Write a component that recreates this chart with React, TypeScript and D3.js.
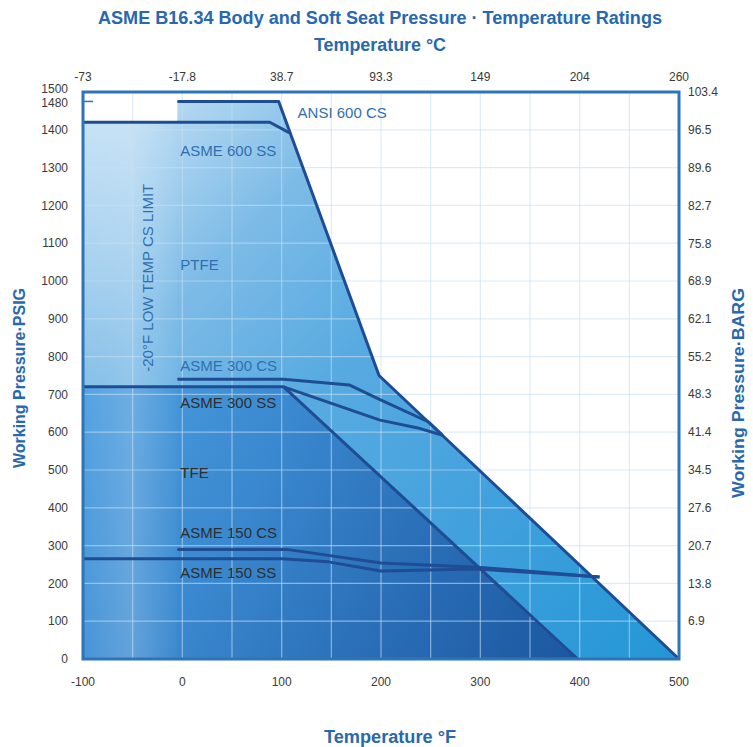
import React, { useRef, useEffect } from "react";
import * as d3 from "d3";

// temperature ticks (°F bottom, °C top labels)
const tempTicksF = [-100, 0, 100, 200, 300, 400, 500];
const tempLabelsC = ["-73", "-17.8", "38.7", "93.3", "149", "204", "260"];
const psiTicks = [0, 100, 200, 300, 400, 500, 600, 700, 800, 900, 1000, 1100, 1200, 1300, 1400, 1480, 1500];
const bargTicks = [6.9, 13.8, 20.7, 27.6, 34.5, 41.4, 48.3, 55.2, 62.1, 68.9, 75.8, 82.7, 89.6, 96.5, 103.4];

// [°F, psig]
const ptfeArea = [[-100, 0], [-100, 1420], [-5, 1420], [-5, 1475], [97, 1475], [198, 750], [500, 0]];
const tfeArea = [[-100, 0], [-100, 720], [102, 720], [398, 0]];
const ansi600CS = [[-5, 1475], [97, 1475], [198, 750], [500, 0]];
const asme600SS = [[-100, 1420], [88, 1420], [108, 1392]];
const asme300CS = [[-5, 740], [102, 740], [168, 725], [199, 686], [248, 627], [262, 592]];
const asme300SS = [[-100, 720], [102, 720], [199, 632], [236, 612], [262, 592]];
const tfeEdge = [[102, 720], [398, 0]];
const asme150CS = [[-5, 290], [105, 290], [200, 254], [297, 243], [420, 217]];
const asme150SS = [[-100, 265], [100, 265], [147, 257], [200, 233], [297, 238], [420, 217]];

const W = 753;
const H = 747;
const FONT = "'Liberation Sans', Arial, sans-serif";

const Chart = () => {
  const svgRef = useRef(null);

  useEffect(() => {
    const svg = d3.select(svgRef.current);
    svg.selectAll("*").remove();

    const x = d3.scaleLinear().domain([-100, 500]).range([83, 679]);
    const y = d3.scaleLinear().domain([0, 1500]).range([659, 92]);
    const yBar = d3.scaleLinear().domain([0, 103.4]).range([659, 92]);

    const defs = svg.append("defs");
    const grad = (id, x1, y1, x2, y2, stops) => {
      const g = defs
        .append("linearGradient")
        .attr("id", id)
        .attr("gradientUnits", "userSpaceOnUse")
        .attr("x1", x1)
        .attr("y1", y1)
        .attr("x2", x2)
        .attr("y2", y2);
      stops.forEach(([o, c, op]) =>
        g.append("stop").attr("offset", o).attr("stop-color", c).attr("stop-opacity", op == null ? 1 : op)
      );
    };
    grad("ptfe", x(-100), y(1500), x(500), y(0), [
      [0, "#cbe5f7"],
      [0.15, "#a3cfee"],
      [0.26, "#7dbbe7"],
      [0.45, "#58abe1"],
      [0.65, "#47a3de"],
      [1, "#2396d6"],
    ]);
    grad("tfe", x(-100), y(720), x(400), y(0), [
      [0, "#4c9fe0"],
      [0.35, "#3a88cf"],
      [0.65, "#2a6fb8"],
      [1, "#1b57a0"],
    ]);
    grad("lowtemp", x(-100), 0, x(-5), 0, [
      [0, "#ffffff", 0.04],
      [0.5, "#ffffff", 0.2],
      [1, "#ffffff", 0.02],
    ]);

    const area = d3
      .line()
      .x((d) => x(d[0]))
      .y((d) => y(d[1]));

    svg.append("path").datum(ptfeArea).attr("d", area).attr("fill", "url(#ptfe)");
    svg.append("path").datum(tfeArea).attr("d", area).attr("fill", "url(#tfe)");

    // lighter band left of the CS limit
    svg
      .append("rect")
      .attr("x", x(-100))
      .attr("y", y(1420))
      .attr("width", x(-5) - x(-100))
      .attr("height", y(0) - y(1420))
      .attr("fill", "url(#lowtemp)");

    // grid
    const grid = svg.append("g").attr("stroke", "#c6dff2").attr("stroke-opacity", 0.6).attr("stroke-width", 1.2);
    d3.range(-50, 500, 50).forEach((t) => {
      grid.append("line").attr("x1", x(t)).attr("x2", x(t)).attr("y1", y(1500)).attr("y2", y(0));
    });
    d3.range(100, 1500, 100).forEach((p) => {
      grid.append("line").attr("x1", x(-100)).attr("x2", x(500)).attr("y1", y(p)).attr("y2", y(p));
    });

    // rating lines
    [ansi600CS, asme600SS, asme300CS, asme300SS, tfeEdge, asme150CS, asme150SS].forEach((s) => {
      svg
        .append("path")
        .datum(s)
        .attr("d", area)
        .attr("fill", "none")
        .attr("stroke", "#1f4d94")
        .attr("stroke-width", 3)
        .attr("stroke-linejoin", "round");
    });

    // frame
    svg
      .append("rect")
      .attr("x", x(-100))
      .attr("y", y(1500))
      .attr("width", x(500) - x(-100))
      .attr("height", y(0) - y(1500))
      .attr("fill", "none")
      .attr("stroke", "#2e74b8")
      .attr("stroke-width", 3);

    // 1480 marker
    svg
      .append("line")
      .attr("x1", x(-100))
      .attr("x2", x(-90))
      .attr("y1", y(1475))
      .attr("y2", y(1475))
      .attr("stroke", "#2e74b8")
      .attr("stroke-width", 1.5);

    const tickText = (g) => g.attr("font-family", FONT).attr("font-size", 12).attr("fill", "#3a3a3a");

    // left axis labels
    const left = svg.append("g").call(tickText).attr("text-anchor", "end");
    psiTicks.forEach((p) => {
      const yy = p === 1480 ? y(1475) + 1 : p === 1500 ? y(1500) - 3 : y(p);
      left.append("text").attr("x", 68).attr("y", yy).attr("dy", "0.35em").text(p);
    });

    // right axis labels
    const right = svg.append("g").call(tickText).attr("text-anchor", "start");
    bargTicks.forEach((b) => {
      right.append("text").attr("x", 688).attr("y", yBar(b)).attr("dy", "0.35em").text(b.toFixed(1));
    });

    // bottom / top labels
    const bottom = svg.append("g").call(tickText).attr("text-anchor", "middle");
    tempTicksF.forEach((t, i) => {
      bottom.append("text").attr("x", x(t)).attr("y", 686).text(t);
      bottom.append("text").attr("x", x(t)).attr("y", 81).text(tempLabelsC[i]);
    });

    // titles
    const title = (txt, cx, cy, size, len, rot = 0) => {
      svg
        .append("text")
        .attr("transform", `translate(${cx},${cy}) rotate(${rot})`)
        .attr("text-anchor", "middle")
        .attr("font-family", FONT)
        .attr("font-weight", "bold")
        .attr("font-size", size)
        .attr("fill", "#2868ae")
        .attr("textLength", len)
        .attr("lengthAdjust", "spacingAndGlyphs")
        .text(txt);
    };
    title("ASME B16.34 Body and Soft Seat Pressure · Temperature Ratings", 380, 24, 18, 564);
    title("Temperature °C", 380, 51, 18, 132);
    title("Temperature °F", 390, 743, 18, 132);
    title("Working Pressure·PSIG", 25, 378, 17, 180, -90);
    title("Working Pressure·BARG", 744, 393, 17, 210, -90);

    // series labels
    const label = (txt, t, p, color) => {
      svg
        .append("text")
        .attr("x", x(t))
        .attr("y", y(p))
        .attr("font-family", FONT)
        .attr("font-size", 15)
        .attr("fill", color)
        .text(txt);
    };
    const blue = "#2f6fb0";
    const dark = "#2e2e2e";
    label("ANSI 600 CS", 116, 1430, blue);
    label("ASME 600 SS", -2, 1330, blue);
    label("PTFE", -2, 1030, blue);
    label("ASME 300 CS", -2, 763, blue);
    label("ASME 300 SS", -2, 663, dark);
    label("TFE", -2, 480, dark);
    label("ASME 150 CS", -2, 320, dark);
    label("ASME 150 SS", -2, 215, dark);

    svg
      .append("text")
      .attr("transform", `translate(${x(-35) + 5},${y(760)}) rotate(-90)`)
      .attr("font-family", FONT)
      .attr("font-size", 15)
      .attr("fill", blue)
      .text("-20°F LOW TEMP CS LIMIT");
  }, []);

  return <svg ref={svgRef} width={W} height={H} style={{ position: "absolute", left: 0, top: 0, background: "#fff" }} />;
};

export default function App() {
  return <Chart />;
}
